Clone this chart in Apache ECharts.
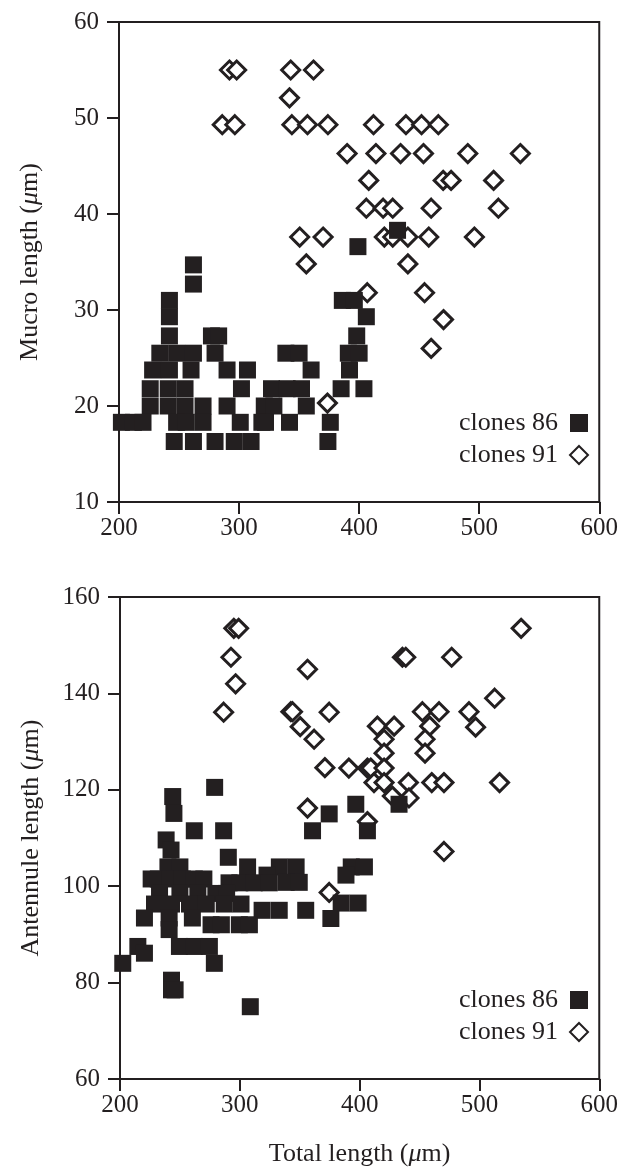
<!DOCTYPE html>
<html>
<head>
<meta charset="utf-8">
<script src="https://cdn.jsdelivr.net/npm/echarts@6/dist/echarts.min.js"></script>
<style>html,body{margin:0;padding:0;background:#fff}#c{width:621px;height:1168px}</style>
</head>
<body>
<div id="c"></div>
<script>
// ---- data ----
const xTicks = [200, 300, 400, 500, 600];
const mucroTicks = [10, 20, 30, 40, 50, 60];
const antTicks = [60, 80, 100, 120, 140, 160];
const seriesNames = ['clones 86', 'clones 91'];

// Top: Mucro length vs Total length
const mucro86 = [
 [262,34.7],[262,32.7],[242,31.0],[242,29.3],[242,27.3],[277,27.3],[283,27.3],
 [234,25.5],[248,25.5],[262,25.5],[280,25.5],
 [228,23.75],[242,23.75],[260,23.75],[290,23.75],[307,23.75],
 [226,21.8],[241,21.8],[255,21.8],[302,21.8],
 [226,20.0],[241,20.0],[255,20.0],[270,20.0],[290,20.0],[321,20.0],
 [202,18.3],[212,18.3],[220,18.3],[248,18.3],[256,18.3],[270,18.3],[301,18.3],[319,18.3],
 [246,16.3],[262,16.3],[280,16.3],[296,16.3],[310,16.3],
 [386,31.0],[396,31.0],[406,29.3],[398,27.3],[391,25.5],[400,25.5],[392,23.75],
 [339,25.5],[350,25.5],[360,23.75],[385,21.8],[404,21.8],[327,21.8],[340,21.8],[352,21.8],
 [329,20.0],[356,20.0],[342,18.3],[322,18.3],[376,18.3],[374,16.3],[399,36.6],[432,38.3]
];
const mucro91 = [
 [292,55.0],[298,55.0],[343,55.0],[362,55.0],[342,52.1],
 [286,49.3],[296.5,49.3],[344,49.3],[357,49.3],[374,49.3],[412,49.3],[439,49.3],[452,49.3],[466,49.3],
 [390,46.3],[414,46.3],[434.5,46.3],[453.6,46.3],[490.5,46.3],[534.3,46.3],
 [408,43.5],[470,43.5],[476.6,43.5],[512,43.5],
 [406,40.6],[420,40.6],[428,40.6],[460,40.6],[516,40.6],
 [350.5,37.6],[370,37.6],[421,37.6],[428,37.6],[440.6,37.6],[458,37.6],[496,37.6],
 [440.6,34.8],[356,34.8],[406.8,31.8],[454.5,31.8],[470.3,29.0],[460,26.0],[373.6,20.3]
];

// Bottom: Antennule length vs Total length
const ant86 = [
 [244,118.6],[245,115.1],[279,120.5],[262,111.5],[286.5,111.5],[238.5,109.6],[242.6,107.5],[290.4,106],
 [360.7,111.5],[374.6,115],[396.8,117],[406.5,111.5],[432.9,117],
 [240,104],[250,104],[306.5,104],[333,104],[347,104],[393,104],[404,104],
 [226,101.5],[232,101.5],[242,101.5],[252,101.5],[262,101.5],[270,101.5],[388.6,102.3],[322.7,102.3],
 [291,100.7],[300,100.7],[312,100.7],[324.6,100.7],[338.7,100.8],[349.6,100.8],
 [233,98.5],[250,98.5],[265,98.5],[280,98.5],[289,98.5],
 [228.8,96.3],[243,96.3],[258,96.3],[272,96.3],[287,96.3],[301,96.3],[384.6,96.5],[398.7,96.5],
 [318.6,95],[332.9,95],[355,95],
 [220.4,93.4],[241,93.4],[260.4,93.4],[376,93.3],
 [276,92],[284.6,92],[299.6,92],[308,92],
 [241,91],
 [214.9,87.5],[249.6,87.5],[262,87.5],[274.6,87.5],
 [220.4,86.1],[202.3,84],[278.75,84],[243,80.5],[243,78.5],[246,78.5],[308.75,75]
];
const ant91 = [
 [295,153.5],[299,153.5],[292.6,147.5],[296.5,142],[286.5,136.1],[356.5,145],[342.6,136.2],[344,136.2],
 [374.6,136.1],[350.4,133.1],[362,130.5],[371,124.6],
 [534.8,153.5],[435.7,147.5],[438.5,147.5],[476.8,147.5],[512.7,139],[452.4,136.2],[466.3,136.2],[491.3,136.2],
 [414.8,133.2],[428.8,133.2],[458.5,133.2],[496.8,133],[420.4,130.5],[454.6,130.5],[420.4,127.6],[454.6,127.6],
 [391,124.5],[406.5,124.5],[409.3,124.5],[420.4,124.5],
 [412,121.5],[420.4,121.5],[440.7,121.5],[460.2,121.5],[470.4,121.5],[516.8,121.5],
 [427.3,118.7],[441.2,118.3],[406.5,113.4],[470.4,107.2],[356.5,116.2],[374.6,98.7]
];

// ---- chart ----
const FONT = '"Liberation Serif", "DejaVu Serif", serif';
const INK = '#231f20';
const FS = 25;
const chart = echarts.init(document.getElementById('c'), null, {renderer: 'canvas'});

function xAx(idx, withName) {
  const a = {
    type: 'value', gridIndex: idx, min: xTicks[0], max: xTicks[xTicks.length - 1], interval: 100,
    axisLine: {show: true, onZero: false, lineStyle: {color: INK, width: 2}},
    axisTick: {show: true, inside: false, length: 12, lineStyle: {color: INK, width: 2}},
    axisLabel: {color: INK, fontFamily: FONT, fontSize: FS, margin: 14},
    splitLine: {show: false}
  };
  if (withName) {
    a.name = 'Total length ({i|μ}m)';
    a.nameLocation = 'middle';
    a.nameGap = 62;
    a.nameTextStyle = {color: INK, fontFamily: FONT, fontSize: 26,
      rich: {i: {fontStyle: 'italic', fontFamily: FONT, fontSize: 26, color: INK}}};
  }
  return a;
}
function yAx(idx, ticks, name) {
  return {
    type: 'value', gridIndex: idx, min: ticks[0], max: ticks[ticks.length - 1], interval: ticks[1] - ticks[0],
    axisLine: {show: true, onZero: false, lineStyle: {color: INK, width: 2}},
    axisTick: {show: true, inside: false, length: 12, lineStyle: {color: INK, width: 2}},
    axisLabel: {color: INK, fontFamily: FONT, fontSize: FS, margin: 20},
    splitLine: {show: false},
    name: name, nameLocation: 'middle', nameGap: 76, nameRotate: 90,
    nameTextStyle: {color: INK, fontFamily: FONT, fontSize: 26,
      rich: {i: {fontStyle: 'italic', fontFamily: FONT, fontSize: 26, color: INK}}}
  };
}
const sqStyle = {color: INK, borderWidth: 0, opacity: 1};
const dmStyle = {color: '#fff', borderColor: INK, borderWidth: 3, opacity: 1};

function legend(top) {
  return {
    show: true, orient: 'vertical', right: 27, top: top, align: 'right',
    itemWidth: 18, itemHeight: 18, itemGap: 6,
    data: seriesNames.map(n => ({name: n})),
    textStyle: {color: INK, fontFamily: FONT, fontSize: 26, padding: [0, 7, 0, 0]},
    selectedMode: false
  };
}

chart.setOption({
  animation: false,
  backgroundColor: '#fff',
  grid: [
    {left: 119, top: 22, width: 481, height: 480, show: true, borderColor: INK, borderWidth: 2, backgroundColor: 'transparent'},
    {left: 120, top: 597, width: 481, height: 482, show: true, borderColor: INK, borderWidth: 2, backgroundColor: 'transparent'}
  ],
  xAxis: [xAx(0, false), xAx(1, true)],
  yAxis: [yAx(0, mucroTicks, 'Mucro length ({i|μ}m)'), yAx(1, antTicks, 'Antennule length ({i|μ}m)')],
  legend: [legend(405), legend(982)],
  series: [
    {name: seriesNames[1], type: 'scatter', xAxisIndex: 0, yAxisIndex: 0, data: mucro91, symbol: 'diamond', symbolSize: 18, itemStyle: dmStyle, z: 2},
    {name: seriesNames[0], type: 'scatter', xAxisIndex: 0, yAxisIndex: 0, data: mucro86, symbol: 'rect', symbolSize: 17, itemStyle: sqStyle, z: 3},
    {name: seriesNames[1], type: 'scatter', xAxisIndex: 1, yAxisIndex: 1, data: ant91, symbol: 'diamond', symbolSize: 18, itemStyle: dmStyle, z: 2},
    {name: seriesNames[0], type: 'scatter', xAxisIndex: 1, yAxisIndex: 1, data: ant86, symbol: 'rect', symbolSize: 17, itemStyle: sqStyle, z: 3}
  ]
});
</script>
</body>
</html>
